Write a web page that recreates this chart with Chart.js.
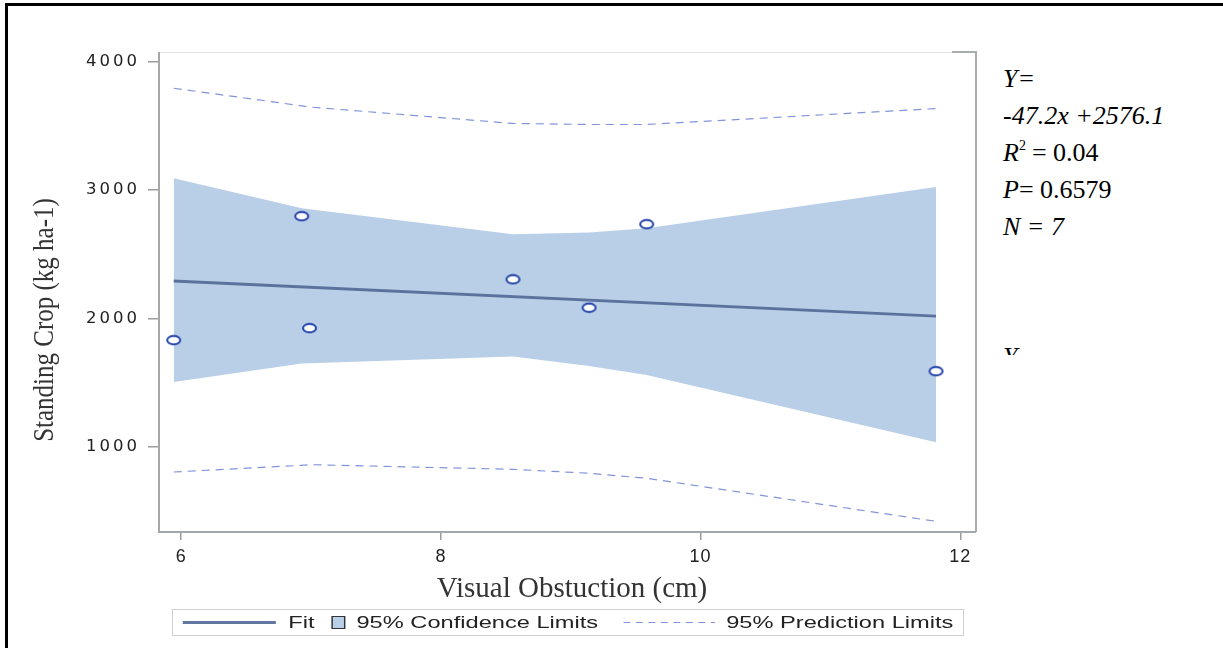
<!DOCTYPE html>
<html>
<head>
<meta charset="utf-8">
<script src="https://cdn.jsdelivr.net/npm/chart.js@4.4.1/dist/chart.umd.min.js"></script>
<style>
  html, body { margin: 0; padding: 0; background: #fff; }
  body { width: 1223px; height: 648px; position: relative; overflow: hidden; }
  #frame { position: absolute; left: 5px; top: 3px; right: 0; bottom: 0;
           border-top: 3px solid #000; border-left: 3px solid #000; }
  #chart { position: absolute; left: 0; top: 0; }
  #ytitle { position: absolute; left: -105px; top: 305px; width: 300px; height: 30px;
            line-height: 30px; text-align: center; color: #333;
            font: 25px "Liberation Serif", "Times New Roman", serif;
            transform: rotate(-90deg) scaleY(1.2); white-space: nowrap; }
  #xtitle { position: absolute; left: 272px; top: 571px; width: 600px; height: 36px;
            line-height: 36px; text-align: center; color: #333;
            font: 29px "Liberation Serif", "Times New Roman", serif; white-space: nowrap; }
  #legend { position: absolute; left: 172px; top: 609px; width: 792px; height: 27px;
            border: 1px solid #cfcfcf; box-sizing: border-box; }
  #legend .inner { position: absolute; left: 0; top: 0; width: 570px; height: 25px;
                   transform: scaleX(1.39); transform-origin: 0 0;
                   font: 17px "Liberation Sans", Arial, sans-serif; color: #222; }
  #legend .txt { position: absolute; top: 0; line-height: 25px; white-space: nowrap; }
  #legend .fitline { position: absolute; left: 7px; width: 67px; top: 11px; height: 3px; background: #5f77a1; }
  #legend .swatch { position: absolute; left: 114px; width: 8px; top: 6px; height: 11px;
                    background: #b9cfe7; border: 1px solid #333; }
  #legend svg { position: absolute; left: 324px; top: 0; }
  #note { position: absolute; left: 1003px; top: 60px; color: #000;
          font: italic 26px "Liberation Serif", "Times New Roman", serif; line-height: 37px; white-space: nowrap; }
  #note .up { font-style: normal; }
  #note sup { font-size: 14px; font-style: normal; vertical-align: 11px; line-height: 0; margin-left: 0; margin-right: 6px; }
  #ycut { position: absolute; left: 1003px; top: 347px; width: 30px; height: 8px; overflow: hidden; }
  #ycut div { position: relative; top: -5px; line-height: 26px;
              font: italic 26px "Liberation Serif", "Times New Roman", serif; color: #000; }
</style>
</head>
<body>
<div id="frame"></div>
<canvas id="chart" width="1000" height="600"></canvas>
<div id="ytitle">Standing Crop (kg ha-1)</div>
<div id="xtitle">Visual Obstuction (cm)</div>
<div id="legend">
  <div class="inner">
    <div class="fitline"></div>
    <div class="txt" style="left:83px">Fit</div>
    <div class="swatch"></div>
    <div class="txt" style="left:132px">95% Confidence Limits</div>
    <svg width="66" height="25"><line x1="0" y1="12.5" x2="66" y2="12.5" stroke="#8393d8" stroke-width="1.2" stroke-dasharray="5 4"/></svg>
    <div class="txt" style="left:398px">95% Prediction Limits</div>
  </div>
</div>
<div id="note">
  <div>Y=</div>
  <div>-47.2x +2576.1</div>
  <div>R<sup>2</sup><span class="up">= 0.04</span></div>
  <div>P<span class="up">= 0.6579</span></div>
  <div>N = 7</div>
</div>
<div id="ycut"><div>Y</div></div>
<script>
// observed points
const xObs = [5.942, 6.928, 6.988, 8.555, 9.141, 9.585, 11.813];
const yObs = [1831, 2795, 1924, 2304, 2083, 2733, 1589];

// fitted line end points
const fitX = [5.942, 11.813];
const fitY = [2291, 2018];

// 95% confidence band at each observed x
const ciUpper = [3091, 2857, 2850, 2655, 2668, 2702, 3023];
const ciLower = [1506, 1650, 1652, 1703, 1630, 1559, 1036];

// 95% prediction limits at each observed x
const predUpper = [3791, 3654, 3645, 3517, 3509, 3509, 3633];
const predLower = [805, 857, 862, 826, 795, 756, 421];

const xTicks = [6, 8, 10, 12];
const yTicks = [1000, 2000, 3000, 4000];
const xMin = 5.821, xMax = 12.121;
const yMin = 338, yMax = 4073;

const FIT = "#5b729d";
const CI = "#b9cfe7";
const PRED = "#8393d8";
const MARK = "#2242a8";

function pts(xs, ys) {
  return xs.map((x, i) => ({ x, y: ys[i] }));
}

// open elliptical marker, like the stretched original
function makeMarker() {
  const c = document.createElement("canvas");
  c.width = 17; c.height = 12;
  const g = c.getContext("2d");
  g.beginPath();
  g.ellipse(8.5, 6, 6.5, 4.2, 0, 0, Math.PI * 2);
  g.fillStyle = "#fff";
  g.fill();
  g.lineWidth = 2;
  g.strokeStyle = MARK;
  g.stroke();
  return c;
}

const plotBox = {
  id: "plotBox",
  beforeDraw(chart) { chart.ctx.letterSpacing = "3px"; },
  beforeDatasetsDraw(chart) { chart.ctx.letterSpacing = "1px"; },
  afterDraw(chart) {
    const { ctx, chartArea: a } = chart;
    ctx.letterSpacing = "0px";
    ctx.save();
    ctx.lineWidth = 1;
    ctx.strokeStyle = "#e2e2e2";
    ctx.beginPath();
    ctx.moveTo(a.left, a.top + 0.5);
    ctx.lineTo(a.right, a.top + 0.5);
    ctx.stroke();
    ctx.lineWidth = 2;
    ctx.strokeStyle = "#a9acad";
    ctx.beginPath();
    ctx.moveTo(a.right - 24, a.top);
    ctx.lineTo(a.right, a.top);
    ctx.lineTo(a.right, a.bottom);
    ctx.stroke();
    ctx.strokeStyle = "#a4a8ab";
    ctx.beginPath();
    ctx.moveTo(a.left + 1, a.top);
    ctx.lineTo(a.left + 1, a.bottom);
    ctx.lineTo(a.right, a.bottom);
    ctx.stroke();
    ctx.restore();
  }
};

const lineSet = (label, xs, ys, extra) => Object.assign({
  label, data: pts(xs, ys), showLine: true, pointRadius: 0, fill: false, tension: 0
}, extra);

new Chart(document.getElementById("chart"), {
  type: "scatter",
  data: {
    datasets: [
      { label: "Observed", data: pts(xObs, yObs), pointStyle: makeMarker(), pointRadius: 6, showLine: false, order: 0 },
      lineSet("Fit", fitX, fitY, { borderColor: FIT, borderWidth: 2.8, order: 1 }),
      lineSet("95% Prediction Limits", xObs, predUpper, { borderColor: PRED, borderWidth: 1.2, borderDash: [8, 6], order: 2 }),
      lineSet("95% Prediction Limits (lower)", xObs, predLower, { borderColor: PRED, borderWidth: 1.2, borderDash: [8, 6], order: 3 }),
      lineSet("CI lower", xObs, ciLower, { borderColor: "rgba(0,0,0,0)", borderWidth: 0, order: 4 }),
      lineSet("95% Confidence Limits", xObs, ciUpper, { borderColor: "rgba(0,0,0,0)", borderWidth: 0, fill: 4, backgroundColor: CI, order: 5 })
    ]
  },
  options: {
    responsive: false,
    animation: false,
    events: [],
    layout: { padding: { top: 52, right: 24, left: 0, bottom: 0 } },
    plugins: { legend: { display: false }, tooltip: { enabled: false } },
    scales: {
      x: {
        type: "linear", min: xMin, max: xMax,
        afterBuildTicks: (s) => { s.ticks = xTicks.map((v) => ({ value: v })); },
        afterFit: (s) => { s.height = 68; },
        grid: { drawOnChartArea: false, drawTicks: true, tickLength: 8, color: "#9c9c9c", lineWidth: 1.5 },
        border: { display: false },
        ticks: {
          z: 1, padding: 6, color: "#222", maxRotation: 0, autoSkip: false,
          font: { family: "'Liberation Sans', Arial, sans-serif", size: 18 },
          callback: (v) => String(v)
        }
      },
      y: {
        type: "linear", min: yMin, max: yMax,
        afterBuildTicks: (s) => { s.ticks = yTicks.map((v) => ({ value: v })); },
        afterFit: (s) => { s.width = 158; },
        grid: { drawOnChartArea: false, drawTicks: true, tickLength: 10, color: "#9c9c9c", lineWidth: 1.5 },
        border: { display: false },
        ticks: {
          padding: 8, color: "#222", autoSkip: false,
          font: { family: "'DejaVu Sans', sans-serif", size: 16.5 },
          callback: (v) => String(v)
        }
      }
    }
  },
  plugins: [plotBox]
});
</script>
</body>
</html>
